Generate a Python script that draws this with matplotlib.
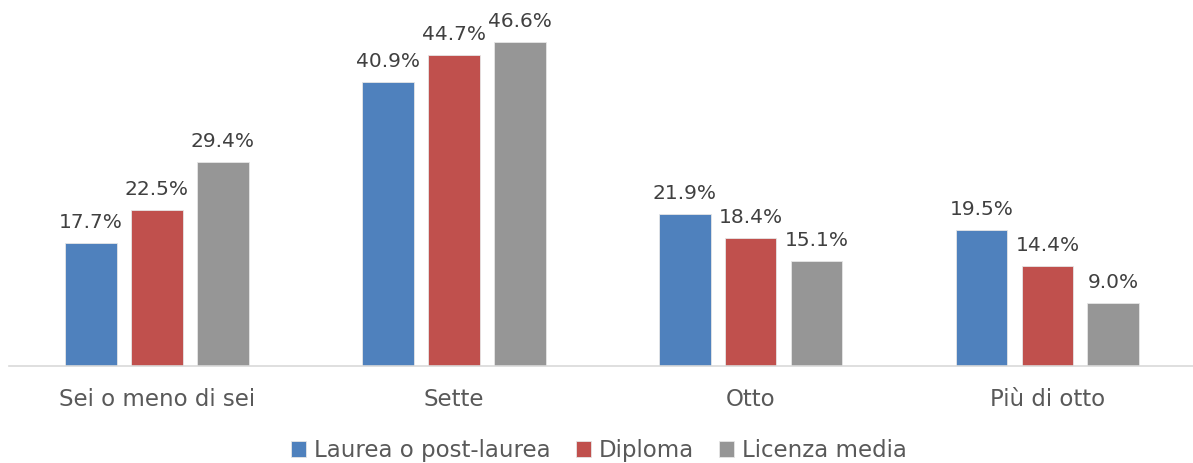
import matplotlib
matplotlib.use("Agg")
import matplotlib.pyplot as plt
import numpy as np

categorie = ["Sei o meno di sei", "Sette", "Otto", "Più di otto"]
serie = ["Laurea o post-laurea", "Diploma", "Licenza media"]
laurea = [17.7, 40.9, 21.9, 19.5]
diploma = [22.5, 44.7, 18.4, 14.4]
licenza = [29.4, 46.6, 15.1, 9.0]
colori = ["#4F81BD", "#C0504D", "#969696"]

plt.rcParams["font.family"] = ["DejaVu Sans"]

fig = plt.figure(figsize=(11.93, 4.63), dpi=100)
ax = fig.add_axes([8.6 / 1193, 0.2095, 1187.2 / 1193, 0.7505])

x = np.arange(len(categorie))
w = 0.174
off = 0.222
for i, (vals, nome) in enumerate(zip([laurea, diploma, licenza], serie)):
    bars = ax.bar(x + (i - 1) * off, vals, w, color=colori[i], label=nome,
                  edgecolor="#e6e6e6", linewidth=0.6)
    for b, v in zip(bars, vals):
        ax.annotate(f"{v:.1f}%", (b.get_x() + b.get_width() / 2, v),
                    xytext=(0, 8), textcoords="offset points",
                    ha="center", va="bottom", fontsize=14.5, color="#404040")

ax.set_xlim(-0.5, 3.5)
ax.set_ylim(0, 50)
ax.set_yticks([])
ax.set_xticks(x)
ax.set_xticklabels(categorie, fontsize=16.5, color="#595959")
ax.tick_params(axis="x", length=0, pad=16)
for s in ["top", "right", "left"]:
    ax.spines[s].set_visible(False)
ax.spines["bottom"].set_color("#d9d9d9")
ax.spines["bottom"].set_linewidth(1.2)

ax.legend(loc="lower center", bbox_to_anchor=(0.4975, -0.336), ncol=3,
          frameon=False, fontsize=16.5, handlelength=0.65, handleheight=0.65,
          handletextpad=0.35, columnspacing=1.1, labelcolor="#595959")

fig.savefig("out.png", dpi=100)
